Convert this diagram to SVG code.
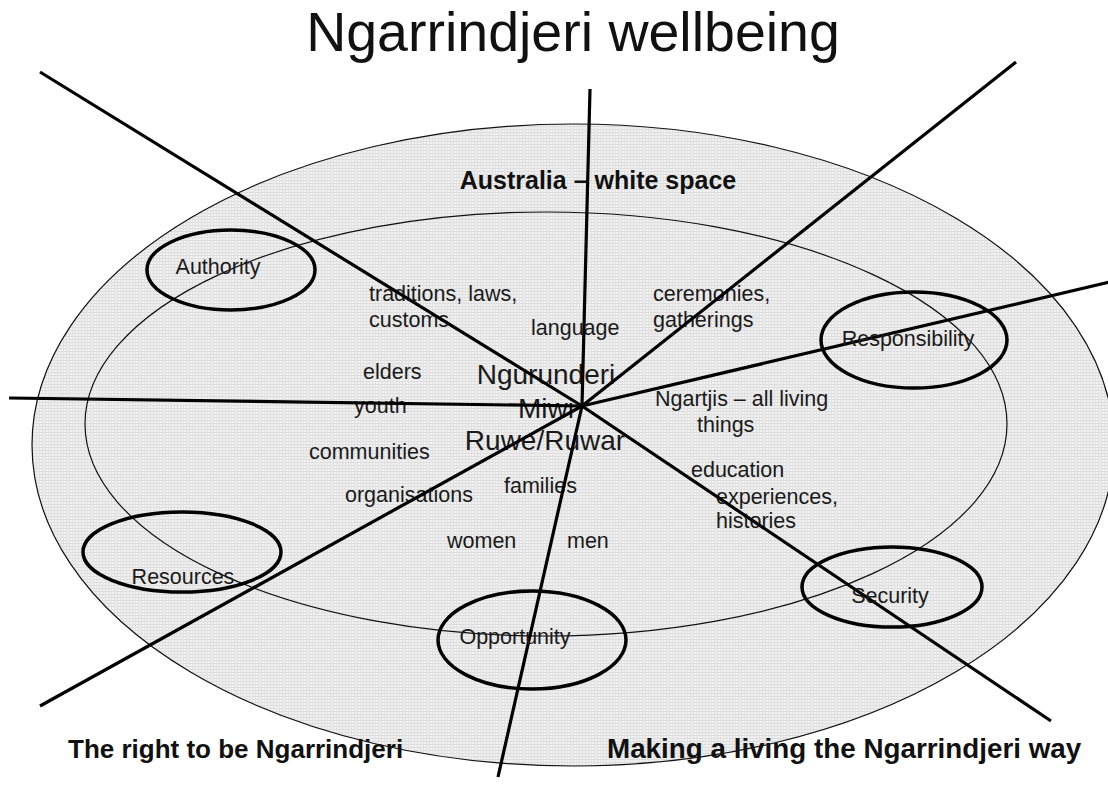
<svg xmlns="http://www.w3.org/2000/svg" width="1108" height="789" viewBox="0 0 1108 789">
<defs>
<pattern id="grid" width="3" height="3" patternUnits="userSpaceOnUse">
<rect width="3" height="3" fill="#f1f1f1"/>
<rect width="3" height="1" fill="#dcdcdc"/>
<rect width="1" height="3" fill="#e2e2e2"/>
</pattern>
<style>
.t{font-family:"Liberation Sans",Arial,sans-serif;font-size:21.5px;fill:#1a1a1a}
.c{text-anchor:middle}
.big{font-size:28px}
.b{font-weight:bold;font-size:25px;fill:#111}
.ring{fill:url(#grid);stroke:#111;stroke-width:1.2}
.oval{fill:none;stroke:#000;stroke-width:3.5}
.ray{stroke:#000;stroke-width:3.2;stroke-linecap:butt;fill:none}
</style>
</defs>
<rect width="1108" height="789" fill="#fff"/>
<g id="title"><text class="t c" x="573" y="51" style="font-size:55.5px;fill:#111">Ngarrindjeri wellbeing</text></g>
<g id="australia-outer">
<ellipse class="ring" cx="573" cy="445" rx="541" ry="321"/>
<text class="t b c" x="598" y="189">Australia – white space</text>
</g>
<g id="ngarrindjeri-inner">
<ellipse class="ring" cx="546" cy="424" rx="461" ry="212"/>
</g>
<g id="centre">
<text class="t big c" x="546" y="384">Ngurunderi</text>
<text class="t big" x="518" y="418">Miwi</text>
<text class="t big c" x="545" y="450">Ruwe/Ruwar</text>
</g>
<g id="items">
<text class="t" x="369" y="301">traditions, laws,</text>
<text class="t" x="369" y="327">customs</text>
<text class="t" x="531" y="335">language</text>
<text class="t" x="363" y="379">elders</text>
<text class="t" x="354" y="413">youth</text>
<text class="t" x="309" y="459">communities</text>
<text class="t" x="345" y="502">organisations</text>
<text class="t" x="504" y="493">families</text>
<text class="t" x="447" y="548">women</text>
<text class="t" x="567" y="548">men</text>
<text class="t" x="653" y="301">ceremonies,</text>
<text class="t" x="653" y="327">gatherings</text>
<text class="t" x="655" y="406">Ngartjis – all living</text>
<text class="t" x="697" y="432">things</text>
<text class="t" x="691" y="477">education</text>
<text class="t" x="716" y="504">experiences,</text>
<text class="t" x="716" y="528">histories</text>
</g>
<g id="connectors">
<line class="ray" x1="582" y1="406" x2="40" y2="72"/>
<line class="ray" x1="582" y1="406" x2="1051" y2="721"/>
<line class="ray" x1="582" y1="406" x2="590" y2="89"/>
<line class="ray" x1="582" y1="406" x2="498" y2="777"/>
<line class="ray" x1="582" y1="406" x2="1016" y2="62"/>
<line class="ray" x1="582" y1="406" x2="40" y2="706"/>
<line class="ray" x1="582" y1="406" x2="1110" y2="282"/>
<line class="ray" x1="582" y1="406" x2="9" y2="398"/>
</g>
<g id="authority"><ellipse class="oval" cx="231" cy="270" rx="84" ry="40"/><text class="t c" x="218" y="274">Authority</text></g>
<g id="responsibility"><ellipse class="oval" cx="914" cy="340" rx="93" ry="48"/><text class="t c" x="908" y="346">Responsibility</text></g>
<g id="resources"><ellipse class="oval" cx="182" cy="552" rx="99" ry="40"/><text class="t c" x="183" y="584">Resources</text></g>
<g id="security"><ellipse class="oval" cx="892" cy="587" rx="90" ry="40"/><text class="t c" x="890" y="603">Security</text></g>
<g id="opportunity"><ellipse class="oval" cx="532" cy="640" rx="94" ry="49"/><text class="t c" x="515" y="644">Opportunity</text></g>
<g id="bottom-labels">
<text class="t b" x="68" y="758" style="font-size:26px">The right to be Ngarrindjeri</text>
<text class="t b" x="607" y="758" style="font-size:27.8px">Making a living the Ngarrindjeri way</text>
</g>
</svg>
